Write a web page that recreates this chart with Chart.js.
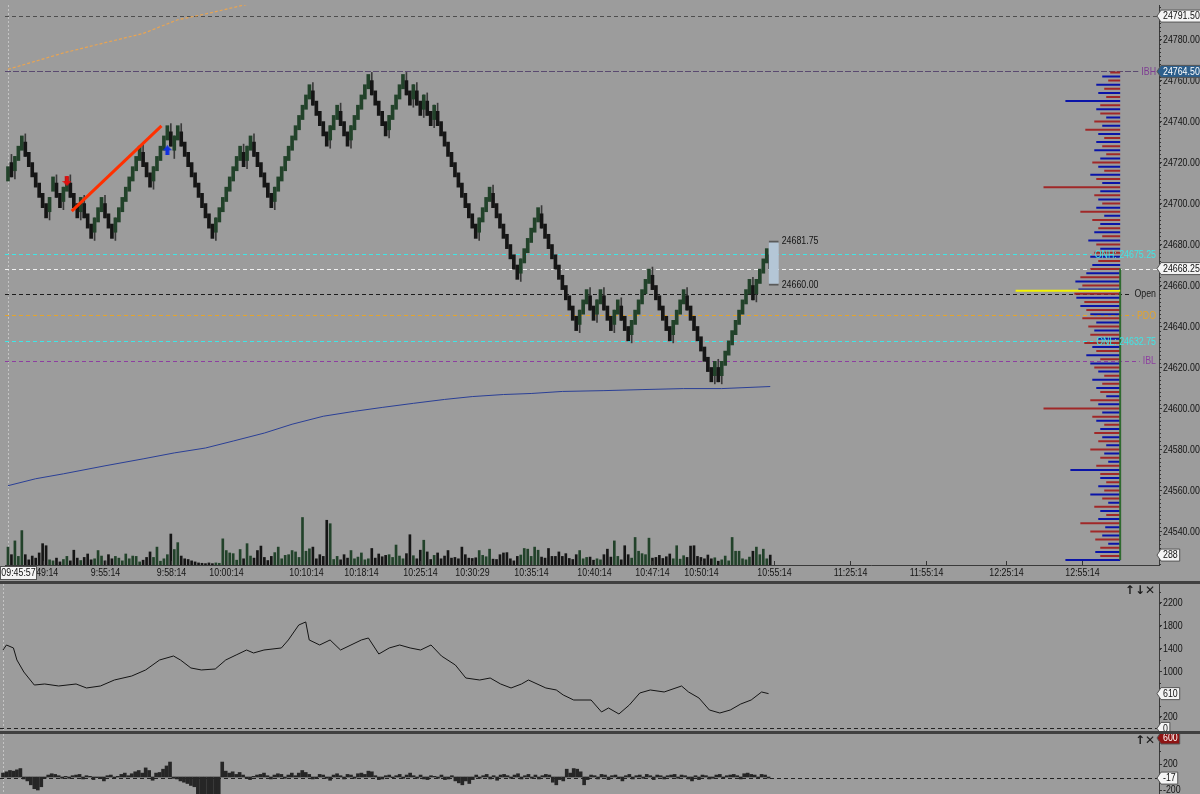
<!DOCTYPE html>
<html>
<head>
<meta charset="utf-8">
<title>NQ renko session</title>
<script src="https://cdn.jsdelivr.net/npm/chart.js@4.4.1/dist/chart.umd.min.js"></script>
<style>
  html, body { margin: 0; padding: 0; background: #9c9c9c; }
  body { width: 1200px; height: 794px; position: relative; overflow: hidden; }
  canvas { position: absolute; left: 0; }
  .sep { position: absolute; left: 0; width: 1200px; height: 3px; background: #404040; }
</style>
</head>
<body>
<canvas id="priceChart" width="1200" height="581" style="top:0"></canvas>
<div class="sep" style="top:581px"></div>
<canvas id="cumChart" width="1200" height="147" style="top:584px"></canvas>
<div class="sep" style="top:731px"></div>
<canvas id="deltaChart" width="1200" height="60" style="top:734px"></canvas>
<script>
// Renko closes, one per brick
const closes = [
  24718,24713,24723,24728,24733,24723,24718,24713,24708,24703,
  24698,24693,24703,24713,24703,24698,24708,24713,24703,24698,
  24693,24703,24693,24688,24683,24693,24698,24703,24693,24688,
  24683,24693,24698,24703,24708,24713,24718,24723,24728,24718,
  24713,24708,24718,24723,24728,24733,24738,24728,24733,24738,
  24728,24723,24718,24713,24708,24703,24698,24693,24688,24683,
  24693,24698,24703,24708,24713,24718,24723,24728,24718,24728,
  24733,24723,24718,24713,24708,24703,24698,24708,24713,24718,
  24723,24728,24733,24738,24743,24748,24753,24758,24748,24743,
  24738,24733,24728,24738,24743,24748,24738,24733,24728,24738,
  24743,24748,24753,24758,24763,24753,24748,24743,24738,24733,
  24743,24748,24753,24758,24763,24753,24748,24758,24748,24743,
  24753,24743,24738,24748,24738,24733,24728,24723,24718,24713,
  24708,24703,24698,24693,24688,24683,24693,24698,24703,24708,
  24698,24693,24688,24683,24678,24673,24668,24663,24673,24678,
  24683,24688,24693,24698,24688,24683,24678,24673,24668,24663,
  24658,24653,24648,24643,24638,24648,24653,24658,24648,24643,
  24653,24658,24648,24643,24638,24648,24653,24643,24638,24633,
  24643,24648,24653,24658,24663,24668,24658,24653,24648,24643,
  24638,24633,24643,24648,24653,24658,24648,24643,24638,24633,
  24628,24623,24618,24613,24623,24613,24623,24628,24633,24638,
  24643,24648,24653,24658,24663,24653,24663,24668,24673,24678,
  24668
];

const volumes = [
  520,300,700,250,1000,300,150,260,200,350,
  620,560,150,120,200,90,160,250,120,430,
  200,130,220,320,150,180,420,260,120,300,
  180,250,200,120,320,180,260,250,90,140,
  220,380,220,520,110,180,300,900,450,650,
  260,180,160,120,90,60,50,40,60,40,
  60,50,760,420,350,330,140,450,180,620,
  260,200,420,550,220,130,250,360,520,180,
  280,300,420,380,220,1380,400,470,520,180,
  300,250,1300,1200,160,250,150,300,200,420,
  180,230,350,150,180,480,200,320,240,280,
  300,220,580,260,180,330,880,270,180,430,
  720,380,160,280,350,180,260,420,200,220,
  180,520,300,200,190,210,420,280,240,460,
  170,160,300,350,360,180,120,250,290,480,
  460,250,520,430,230,200,480,250,250,380,
  250,330,190,160,300,420,180,220,230,140,
  180,150,300,460,230,700,250,150,560,300,
  200,800,400,330,300,780,200,220,280,190,
  240,320,180,560,170,270,220,550,560,250,
  220,180,290,180,210,110,150,260,120,800,
  400,400,180,150,230,400,520,300,460,180,
  288
];

const deltas = [
  60,80,100,90,110,130,-30,-60,-120,-180,
  -200,-150,-20,30,50,40,20,-20,10,-20,
  20,30,40,-30,20,10,-40,-10,-20,-60,
  20,30,-20,10,40,60,20,50,80,100,
  60,140,100,-50,60,70,120,170,230,-20,
  -30,-60,-80,-100,-130,-150,-260,-260,-260,-260,
  -260,-260,-260,230,90,60,80,40,70,30,
  -20,-40,10,30,40,60,20,-30,30,50,
  40,-20,30,60,20,60,100,70,40,-30,
  -20,40,30,-20,-50,30,50,20,-30,40,
  30,-20,50,60,40,90,80,20,-40,-30,
  20,30,-10,20,40,-20,30,60,20,-20,
  30,-30,-40,20,10,-20,30,-40,-30,20,
  -60,-90,-120,-60,-100,-40,30,-20,20,40,
  -30,20,-50,30,40,20,-20,30,50,-30,
  20,40,-20,30,-30,20,40,30,-80,-120,
  -40,-60,120,60,130,120,80,-120,-40,30,
  20,-30,40,30,-40,20,30,-20,-60,20,
  40,-30,20,30,-20,40,20,-40,30,20,
  -30,20,30,40,-20,30,20,-30,-60,20,
  -40,30,20,-30,-20,30,40,-20,20,30,
  40,20,-30,50,60,40,30,-20,40,30,
  -17
];

// cumulative study, read at these bars
const cumIdx = [0,1,3,4,6,9,12,16,21,24,28,32,37,41,45,49,51,54,57,61,64,67,70,72,75,80,82,85,87,88,
  91,94,97,100,103,105,108,111,114,117,120,123,126,130,133,137,140,143,146,149,151,156,159,161,164,
  169,172,174,177,180,183,186,190,195,197,200,203,206,209,212,215,218,220];
const cumVal = [1375,1463,1411,1200,989,761,779,744,779,709,744,849,919,1025,1200,1270,1200,1060,1025,1042,
  1200,1288,1375,1323,1375,1411,1551,1814,1867,1551,1463,1551,1375,1463,1551,1586,1305,1411,1463,1411,
  1375,1463,1270,1112,884,849,884,779,709,779,849,709,674,586,498,498,288,358,253,411,
  621,674,639,744,639,533,323,270,323,428,498,639,610];

const vwapIdx = [0,8,16,28,39,48,57,65,74,82,91,100,108,117,126,134,143,151,160,172,183,195,206,220];
const vwapVal = [24562.3,24565.7,24568.1,24572.0,24575.4,24578.3,24580.7,24584.1,24588.0,24592.3,24596.2,24598.6,
  24600.5,24602.5,24604.4,24605.8,24606.8,24607.3,24608.3,24608.7,24609.2,24609.7,24609.7,24610.7];

const ovnIdx = [0,8,16,28,39,49,57,71];
const ovnVal = [24765.5,24769.5,24773.5,24778.5,24783.0,24789.7,24792.5,24798.0];

const drawIdx = [18.4, 44.3];
const drawPrice = [24696.3, 24737.9];
const signalIdx = [17, 46];
const signalPrice = [24711, 24726];

const timeTickIdx = [10,28,47,63,86,102,119,134,151,169,186,200,221,243,265,288,310];
const timeTickLabels = ['9:49:14','9:55:14','9:58:14','10:00:14','10:10:14','10:18:14','10:25:14','10:30:29',
  '10:35:14','10:40:14','10:47:14','10:50:14','10:55:14','11:25:14','11:55:14','12:25:14','12:55:14'];
const priceTicks = [24540,24560,24580,24600,24620,24640,24660,24680,24700,24720,24740,24760,24780];
const cumTicks = [200,600,1000,1400,1800,2200];
const deltaTicks = [-200,200,600];

const levelPrices = [24791.5, 24764.5, 24675.25, 24668.25, 24656, 24645.5, 24632.75, 24623.25];
const levelLabels = ['', 'IBH', 'ONH: 24675.25', '', 'Open', 'PDO', 'ONL: 24632.75', 'IBL'];
const levelColors = ['#4e4e4e', '#5a4a70', '#3fe6e6', '#f2f2f2', '#1c1c1c', '#e3a42c', '#3fe6e6', '#8d3fa0'];
const levelTextColors = ['', '#7d3c92', '#3fe6e6', '', '#1c1c1c', '#e3a42c', '#3fe6e6', '#8d3fa0'];

// session volume profile, 2 point rows from profileLow
const profileLow = 24526;
const profileVol = [
  55,20,25,20,12,25,18,30,15,40,22,14,
  20,26,12,18,30,16,22,14,20,20,
  50,24,12,20,16,30,14,22,18,26,
  20,16,24,28,18,77,22,30,14,20,
  24,18,28,16,22,26,30,20,34,24,
  28,36,22,30,26,32,24,38,30,34,
  40,36,44,46,42,38,45,40,34,30,
  28,22,30,26,20,24,32,18,26,22,
  20,28,16,40,24,18,22,26,20,77,
  18,24,30,16,22,28,20,14,26,18,
  24,16,22,35,18,26,14,20,24,20,
  55,14,22,16,24,12,18,10
];
const pocPrice = 24657.5;
const pocVol = 105;

const lastPrice = 24668.25;
const formingLow = 24660.00;
const formingHigh = 24681.75;
const crossTime = '09:45:57';
const cumTagValue = 610;
const deltaTagValue = 600;

const X_MIN = -0.86, X_MAX = 332.2;
const BODY = 7, TAIL = 4;
const FONT = "'Liberation Sans', Arial, sans-serif";
const TEXT_SIZE = 10.5;
const SQUEEZE = 0.84;   // platform font is narrower than Arial
Chart.defaults.font.family = FONT;
Chart.defaults.font.size = 10;
Chart.defaults.color = '#111';

const dirs = closes.map((c, i) => (i === 0 ? 1 : Math.sign(c - closes[i - 1])));
const opens = closes.map((c, i) => c - dirs[i] * BODY);
const bodies = closes.map((c, i) => ({ x: i, y: [opens[i], c] }));
const wicks = [];
closes.forEach((c, i) => {
  if (i === 0 || dirs[i] === dirs[i - 1]) return;
  const lo = Math.min(opens[i], c) - (dirs[i] > 0 ? TAIL : 0);
  const hi = Math.max(opens[i], c) + (dirs[i] < 0 ? TAIL : 0);
  wicks.push({ x: i, y: [lo, hi] });
});
const upColor = '#22422a', downColor = '#151515';

const profBlue = [], profRed = [];
profileVol.forEach((v, i) => {
  const p = profileLow + i * 2;
  const target = i % 2 === 0 ? profBlue : profRed;
  target.push({ x: 0, y: p }, { x: v, y: p }, { x: null, y: null });
});

function arrowImage(color, down) {
  const c = document.createElement('canvas');
  c.width = 9; c.height = 10;
  const g = c.getContext('2d');
  g.fillStyle = color;
  g.beginPath();
  if (down) {
    g.moveTo(2.5, 0); g.lineTo(6.5, 0); g.lineTo(6.5, 5); g.lineTo(9, 5);
    g.lineTo(4.5, 10); g.lineTo(0, 5); g.lineTo(2.5, 5);
  } else {
    g.moveTo(2.5, 10); g.lineTo(6.5, 10); g.lineTo(6.5, 5); g.lineTo(9, 5);
    g.lineTo(4.5, 0); g.lineTo(0, 5); g.lineTo(2.5, 5);
  }
  g.closePath();
  g.fill();
  return c;
}

function textWidth(ctx, text) {
  ctx.save();
  ctx.font = TEXT_SIZE + 'px ' + FONT;
  const w = ctx.measureText(text).width * SQUEEZE;
  ctx.restore();
  return w;
}

function drawText(ctx, text, x, y, align, color) {
  ctx.save();
  ctx.font = TEXT_SIZE + 'px ' + FONT;
  ctx.fillStyle = color;
  ctx.textAlign = align;
  ctx.textBaseline = 'middle';
  ctx.translate(x, y);
  ctx.scale(SQUEEZE, 1);
  ctx.fillText(text, 0, 0);
  ctx.restore();
}

function drawTag(ctx, x, y, text, fill, color) {
  const w = textWidth(ctx, text) + 4;
  const h = 12;
  ctx.save();
  ctx.beginPath();
  ctx.moveTo(x, y);
  ctx.lineTo(x + 4, y - h / 2);
  ctx.lineTo(x + 4 + w, y - h / 2);
  ctx.lineTo(x + 4 + w, y + h / 2);
  ctx.lineTo(x + 4, y + h / 2);
  ctx.closePath();
  ctx.fillStyle = fill;
  ctx.fill();
  ctx.strokeStyle = '#555';
  ctx.lineWidth = 1;
  ctx.stroke();
  ctx.restore();
  drawText(ctx, text, x + 6, y + 0.5, 'left', color);
}

function axisLabels(chart, ticks, fmt) {
  const { ctx, chartArea: a, scales: { y } } = chart;
  ticks.forEach(v => drawText(ctx, fmt(v), a.right + 4, y.getPixelForValue(v) + 0.5, 'left', '#141414'));
}

function crosshair(chart) {
  const { ctx, chartArea: a, scales: { x } } = chart;
  const px = Math.round(x.getPixelForValue(0)) + 0.5;
  ctx.save();
  ctx.strokeStyle = '#c4c4c4';
  ctx.setLineDash([2, 2]);
  ctx.beginPath();
  ctx.moveTo(px, a.top);
  ctx.lineTo(px, a.bottom);
  ctx.stroke();
  ctx.restore();
}

function minorTicks(chart, step) {
  const { ctx, chartArea: a, scales: { y } } = chart;
  ctx.save();
  ctx.strokeStyle = '#333';
  ctx.lineWidth = 1;
  const start = Math.ceil(y.min / step) * step;
  for (let v = start; v <= y.max; v += step) {
    const py = Math.round(y.getPixelForValue(v)) + 0.5;
    ctx.beginPath();
    ctx.moveTo(a.right, py);
    ctx.lineTo(a.right + 2, py);
    ctx.stroke();
  }
  ctx.restore();
}

function paneIcons(chart, text) {
  const { ctx, chartArea: a } = chart;
  ctx.save();
  ctx.font = 'bold 12px DejaVu Sans';
  ctx.fillStyle = '#1a1a1a';
  ctx.textAlign = 'right';
  ctx.textBaseline = 'top';
  ctx.fillText(text, a.right - 4, a.top + 1);
  ctx.restore();
}

const priceDecor = {
  id: 'priceDecor',
  beforeDatasetsDraw(chart) {
    const { ctx, chartArea: a, scales: { y } } = chart;
    crosshair(chart);
    ctx.save();
    levelPrices.forEach((p, i) => {
      const py = Math.round(y.getPixelForValue(p)) + 0.5;
      let end = a.right;
      if (levelLabels[i]) end = a.right - 3 - textWidth(ctx, levelLabels[i]) - 3;
      ctx.strokeStyle = levelColors[i];
      ctx.lineWidth = 1;
      ctx.setLineDash(i === 1 ? [6, 2] : [4, 3]);
      ctx.beginPath();
      ctx.moveTo(a.left, py);
      ctx.lineTo(end, py);
      ctx.stroke();
    });
    ctx.restore();
  },
  afterDraw(chart) {
    const { ctx, chartArea: a, scales: { x, y, yv } } = chart;
    // level names at the right edge of the plot
    levelPrices.forEach((p, i) => {
      if (levelLabels[i]) drawText(ctx, levelLabels[i], a.right - 3, y.getPixelForValue(p) + 0.5, 'right', levelTextColors[i]);
    });
    // forming brick range
    const fx = x.getPixelForValue(closes.length) + 8;
    drawText(ctx, formingHigh.toFixed(2), fx, y.getPixelForValue(formingHigh), 'left', '#141414');
    drawText(ctx, formingLow.toFixed(2), fx, y.getPixelForValue(formingLow), 'left', '#141414');
    // time axis: ticks point up into the plot
    ctx.save();
    ctx.strokeStyle = '#333';
    timeTickIdx.forEach((t, i) => {
      const px = Math.round(x.getPixelForValue(t)) + 0.5;
      ctx.beginPath();
      ctx.moveTo(px, a.bottom);
      ctx.lineTo(px, a.bottom - 4);
      ctx.stroke();
      drawText(ctx, timeTickLabels[i], px, a.bottom + 8.5, 'center', '#141414');
    });
    ctx.restore();
    minorTicks(chart, 2);
    axisLabels(chart, priceTicks, v => v.toFixed(2));
    drawTag(ctx, a.right - 2, y.getPixelForValue(levelPrices[0]), levelPrices[0].toFixed(2), '#f4f4f4', '#111');
    drawTag(ctx, a.right - 2, y.getPixelForValue(levelPrices[1]), levelPrices[1].toFixed(2), '#2d5f8c', '#fff');
    drawTag(ctx, a.right - 2, y.getPixelForValue(lastPrice), lastPrice.toFixed(2), '#f4f4f4', '#111');
    drawTag(ctx, a.right - 2, yv.getPixelForValue(volumes[volumes.length - 1]), String(volumes[volumes.length - 1]), '#f4f4f4', '#111');
    // crosshair time tag
    ctx.save();
    ctx.fillStyle = '#f4f4f4';
    ctx.fillRect(0, a.bottom + 1, 37, 14);
    ctx.strokeStyle = '#555';
    ctx.strokeRect(0.5, a.bottom + 1.5, 36, 13);
    ctx.restore();
    drawText(ctx, crossTime, 18.5, a.bottom + 8.5, 'center', '#111');
  }
};

const cumDecor = {
  id: 'cumDecor',
  beforeDatasetsDraw(chart) {
    const { ctx, chartArea: a, scales: { y } } = chart;
    crosshair(chart);
    const py = Math.round(y.getPixelForValue(0)) + 0.5;
    ctx.save();
    ctx.strokeStyle = '#222';
    ctx.setLineDash([4, 3]);
    ctx.beginPath();
    ctx.moveTo(a.left, py);
    ctx.lineTo(a.right, py);
    ctx.stroke();
    ctx.restore();
  },
  afterDraw(chart) {
    const { ctx, chartArea: a, scales: { y } } = chart;
    minorTicks(chart, 200);
    axisLabels(chart, cumTicks, v => String(v));
    paneIcons(chart, '\u2191\u2193\u2715');
    drawTag(ctx, a.right - 2, y.getPixelForValue(cumTagValue), String(cumTagValue), '#f4f4f4', '#111');
    drawTag(ctx, a.right - 2, y.getPixelForValue(0), '0', '#f4f4f4', '#111');
  }
};

const deltaDecor = {
  id: 'deltaDecor',
  beforeDatasetsDraw(chart) {
    const { ctx, chartArea: a, scales: { y } } = chart;
    crosshair(chart);
    const py = Math.round(y.getPixelForValue(deltas[deltas.length - 1])) + 0.5;
    ctx.save();
    ctx.strokeStyle = '#222';
    ctx.setLineDash([4, 3]);
    ctx.beginPath();
    ctx.moveTo(a.left, py);
    ctx.lineTo(a.right, py);
    ctx.stroke();
    ctx.restore();
  },
  afterDraw(chart) {
    const { ctx, chartArea: a, scales: { y } } = chart;
    minorTicks(chart, 200);
    axisLabels(chart, deltaTicks, v => String(v));
    paneIcons(chart, '\u2191\u2715');
    drawTag(ctx, a.right - 2, y.getPixelForValue(deltaTagValue), String(deltaTagValue), '#8e1414', '#fff');
    drawTag(ctx, a.right - 2, y.getPixelForValue(deltas[deltas.length - 1]), String(deltas[deltas.length - 1]), '#f4f4f4', '#111');
  }
};

function xScale(showAxis) {
  return {
    type: 'linear', min: X_MIN, max: X_MAX, position: 'bottom', display: showAxis, offset: false,
    afterBuildTicks: s => { s.ticks = timeTickIdx.map(v => ({ value: v })); },
    afterFit: s => { if (showAxis) s.height = 16; s.paddingLeft = 0; s.paddingRight = 0; },
    ticks: { display: false },
    grid: { display: false, offset: false },
    border: { display: true, color: '#3a3a3a', width: 1 }
  };
}

function yScale(min, max, ticks) {
  return {
    type: 'linear', position: 'right', min, max, offset: false,
    afterBuildTicks: s => { s.ticks = ticks.map(v => ({ value: v })); },
    afterFit: s => { s.width = 41; s.paddingTop = 0; s.paddingBottom = 0; },
    ticks: { display: false },
    grid: { drawOnChartArea: false, drawTicks: true, tickLength: 3, color: '#333' },
    border: { color: '#3a3a3a' }
  };
}

const baseOptions = {
  responsive: false,
  animation: false,
  events: [],
  layout: { padding: 0 },
  plugins: { legend: { display: false }, tooltip: { enabled: false } }
};

new Chart(document.getElementById('priceChart'), {
  type: 'bar',
  data: {
    datasets: [
      { type: 'line', data: signalIdx.map((v, i) => ({ x: v, y: signalPrice[i] })), showLine: false,
        pointStyle: [arrowImage('#e01010', true), arrowImage('#1030e0', false)], order: 0 },
      { type: 'line', data: drawIdx.map((v, i) => ({ x: v, y: drawPrice[i] })), borderColor: '#ff3000',
        borderWidth: 3, pointRadius: 0, order: 1 },
      { data: [{ x: closes.length, y: [formingLow, formingHigh] }], barThickness: 10, grouped: false,
        backgroundColor: '#b4c6d6', borderColor: '#5a5a5a', borderWidth: { top: 2, bottom: 2, left: 0, right: 0 },
        borderSkipped: false, order: 2 },
      { data: bodies, barThickness: 3, grouped: false, order: 3,
        backgroundColor: dirs.map(d => (d > 0 ? upColor : downColor)) },
      { data: wicks, barThickness: 1, grouped: false, order: 4, backgroundColor: '#3a3a3a' },
      { type: 'line', data: vwapIdx.map((v, i) => ({ x: v, y: vwapVal[i] })), borderColor: '#2a3f96',
        borderWidth: 1, pointRadius: 0, order: 5 },
      { type: 'line', data: ovnIdx.map((v, i) => ({ x: v, y: ovnVal[i] })), borderColor: '#e8a452',
        borderWidth: 1.2, borderDash: [3, 2], pointRadius: 0, order: 5 },
      { data: volumes.map((v, i) => ({ x: i, y: v })), yAxisID: 'yv', barThickness: 2, grouped: false, order: 7,
        backgroundColor: volumes.map((v, i) => (i < dirs.length && dirs[i] < 0 ? downColor : upColor)) },
      { type: 'line', data: profBlue, xAxisID: 'xp', borderColor: '#0a14a8', borderWidth: 2, pointRadius: 0,
        spanGaps: false, order: 6 },
      { type: 'line', data: profRed, xAxisID: 'xp', borderColor: '#a02828', borderWidth: 2, pointRadius: 0,
        spanGaps: false, order: 6 },
      { type: 'line', data: [{ x: 0, y: pocPrice }, { x: pocVol, y: pocPrice }], xAxisID: 'xp',
        borderColor: '#f2f200', borderWidth: 2, pointRadius: 0, order: 5 },
      { type: 'line', data: [{ x: 0, y: profileLow }, { x: 0, y: lastPrice }], xAxisID: 'xp',
        borderColor: '#2f6a2f', borderWidth: 2, pointRadius: 0, order: 5 }
    ]
  },
  options: Object.assign({}, baseOptions, {
    scales: {
      x: xScale(true),
      y: yScale(24523.6, 24796.9, priceTicks),
      yv: { type: 'linear', display: false, min: 0, max: 16272, offset: false },
      xp: { type: 'linear', display: false, reverse: true, min: -39, max: 1120, offset: false }
    }
  }),
  plugins: [priceDecor]
});

new Chart(document.getElementById('cumChart'), {
  type: 'line',
  data: {
    datasets: [{ data: cumIdx.map((v, i) => ({ x: v, y: cumVal[i] })), borderColor: '#141414',
      borderWidth: 1, pointRadius: 0 }]
  },
  options: Object.assign({}, baseOptions, {
    scales: { x: xScale(false), y: yScale(-45.6, 2533, cumTicks) }
  }),
  plugins: [cumDecor]
});

new Chart(document.getElementById('deltaChart'), {
  type: 'bar',
  data: {
    datasets: [{ data: deltas.map((v, i) => ({ x: i, y: v })), barThickness: 3, backgroundColor: '#262626' }]
  },
  options: Object.assign({}, baseOptions, {
    scales: { x: xScale(false), y: yScale(-261.5, 661.5, deltaTicks) }
  }),
  plugins: [deltaDecor]
});
</script>
</body>
</html>
